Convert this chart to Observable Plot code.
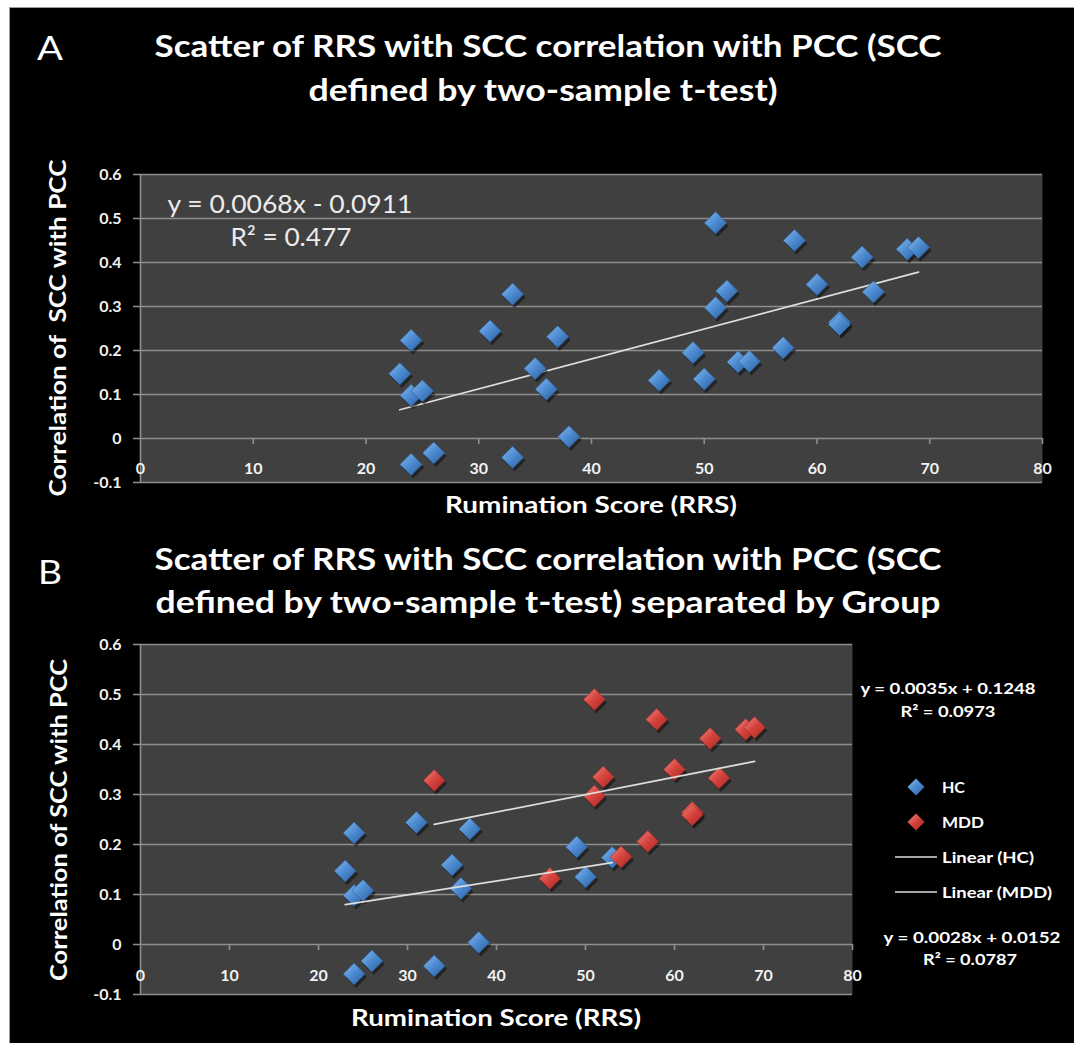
<!DOCTYPE html>
<html><head><meta charset="utf-8">
<script src="https://cdn.jsdelivr.net/npm/d3@7"></script>
<script src="https://cdn.jsdelivr.net/npm/@observablehq/plot@0.6"></script>
<style>
html,body{margin:0;padding:0;background:#fff;width:1074px;height:1051px;overflow:hidden;font-family:Lato,"Open Sans",sans-serif;}
#bg{position:absolute;left:9px;top:7px;width:1065px;height:1036px;background:#000;border-top:1px solid #9a9a9a;border-left:1px solid #9a9a9a;box-sizing:border-box}
.panel{position:absolute;left:0}
.t{position:absolute;white-space:pre;color:#fff;line-height:1;transform-origin:center center}
</style></head><body>
<div id="bg"></div>
<svg width="0" height="0" style="position:absolute">
  <defs>
    <linearGradient id="gBlue" x1="0" y1="0" x2="1" y2="1">
      <stop offset="0%" stop-color="#86bbf0"/>
      <stop offset="48%" stop-color="#4d8bd0"/>
      <stop offset="100%" stop-color="#2a5e9e"/>
    </linearGradient>
    <linearGradient id="gRed" x1="0" y1="0" x2="1" y2="1">
      <stop offset="0%" stop-color="#f08a84"/>
      <stop offset="48%" stop-color="#d6433d"/>
      <stop offset="100%" stop-color="#a42824"/>
    </linearGradient>
  </defs>
</svg>
<div id="A" class="panel" style="top:150px"></div>
<div id="B" class="panel" style="top:620px"></div>
<script>
// ---- data ----
const rrs   = [23, 24, 24, 25, 24, 26, 31, 33, 35, 36, 37, 38, 49, 50, 53,
               33, 46, 51, 51, 52, 54, 57, 58, 60, 62, 62, 64, 65, 68, 69];
const scc   = [0.147, 0.223, 0.098, 0.108, -0.059, -0.033, 0.244, -0.043, 0.159, 0.112, 0.231, 0.004, 0.195, 0.135, 0.174,
               0.328, 0.132, 0.490, 0.297, 0.335, 0.175, 0.206, 0.450, 0.350, 0.264, 0.259, 0.412, 0.333, 0.430, 0.434];
const group = ["HC","HC","HC","HC","HC","HC","HC","HC","HC","HC","HC","HC","HC","HC","HC",
               "MDD","MDD","MDD","MDD","MDD","MDD","MDD","MDD","MDD","MDD","MDD","MDD","MDD","MDD","MDD"];
const xTicks = [0, 10, 20, 30, 40, 50, 60, 70, 80];
const yTicks = [-0.1, 0, 0.1, 0.2, 0.3, 0.4, 0.5, 0.6];
const yTickLabels = ["-0.1", "0", "0.1", "0.2", "0.3", "0.4", "0.5", "0.6"];
const fitAll = {slope: 0.0068, intercept: -0.0911, r2: "0.477"};
const fitHC  = {slope: 0.0028, intercept: 0.0152, r2: "0.0787"};
const fitMDD = {slope: 0.0035, intercept: 0.1248, r2: "0.0973"};

const points = rrs.map((x, i) => ({rrs: x, scc: scc[i], group: group[i]}));
function trend(pts, fit) {
  const [a, b] = d3.extent(pts, d => d.rrs);
  return [a, b].map(x => ({x, y: fit.slope * x + fit.intercept}));
}
function eqText(fit) {
  const s = fit.intercept < 0 ? " - " : " + ";
  return "y = " + fit.slope.toFixed(4) + "x" + s + Math.abs(fit.intercept).toFixed(4);
}

const GRID = "#8e8e8e", TXT = "#f2f2f2", TREND = "#dedede";
function axisMarks(tickDy) {
  return [
    Plot.frame({fill: "#404040", stroke: "none"}),
    Plot.ruleY(yTicks, {y: d => d, stroke: GRID, strokeWidth: 1.6, insetLeft: -7}),
    Plot.ruleX([0], {x: d => d, stroke: GRID, strokeWidth: 1.6}),
    Plot.ruleX(xTicks.slice(1), {x: d => d, y1: () => 0, y2: () => 0, insetBottom: -6, stroke: GRID, strokeWidth: 1.6}),
    Plot.text(yTicks, {x: () => 0, y: d => d, text: (d, i) => yTickLabels[i], textAnchor: "end", dx: -19, fill: TXT}),
    Plot.text(xTicks, {x: d => d, y: () => 0, text: d => String(d), dy: tickDy, fill: TXT})
  ];
}
const baseStyle = {background: "transparent", fontFamily: "Lato, 'Open Sans', sans-serif", fontSize: "16px", fontWeight: "bold", color: TXT};

// ---- Panel A ----
const plotA = Plot.plot({
  width: 1074, height: 380,
  marginLeft: 140, marginRight: 32, marginTop: 24, marginBottom: 48,
  style: baseStyle,
  x: {domain: [0, 80], axis: null},
  y: {domain: [-0.1, 0.6], axis: null},
  marks: [
    ...axisMarks(30),
    Plot.line(trend(points, fitAll), {x: "x", y: "y", stroke: TREND, strokeWidth: 1.7}),
    Plot.dot(points, {x: "rrs", y: "scc", symbol: "diamond2", r: 10, fill: "#000", fillOpacity: 0.45, dx: 2, dy: 3}),
    Plot.dot(points, {x: "rrs", y: "scc", symbol: "diamond2", r: 10, fill: "url(#gBlue)", stroke: "#2c5f9c", strokeWidth: 0.6})
  ]
});
document.getElementById("A").appendChild(plotA);

// ---- Panel B ----
const hc = points.filter(d => d.group === "HC");
const mdd = points.filter(d => d.group === "MDD");
const plotB = Plot.plot({
  width: 1074, height: 420,
  marginLeft: 140, marginRight: 222, marginTop: 24, marginBottom: 46,
  style: baseStyle,
  x: {domain: [0, 80], axis: null},
  y: {domain: [-0.1, 0.6], axis: null},
  marks: [
    ...axisMarks(31),
    Plot.dot(points, {x: "rrs", y: "scc", symbol: "diamond2", r: 9.8, fill: "#000", fillOpacity: 0.45, dx: 2, dy: 3}),
    Plot.dot(hc, {x: "rrs", y: "scc", symbol: "diamond2", r: 9.8, fill: "url(#gBlue)", stroke: "#2c5f9c", strokeWidth: 0.6}),
    Plot.dot(mdd, {x: "rrs", y: "scc", symbol: "diamond2", r: 9.8, fill: "url(#gRed)", stroke: "#a02a26", strokeWidth: 0.6}),
    Plot.line(trend(hc, fitHC), {x: "x", y: "y", stroke: TREND, strokeWidth: 1.7}),
    Plot.line(trend(mdd, fitMDD), {x: "x", y: "y", stroke: TREND, strokeWidth: 1.7})
  ]
});
document.getElementById("B").appendChild(plotB);

// ---- text (titles, axis titles, equations, legend) ----
function place(txt, x, y, w, opts = {}) {
  const el = document.createElement("div");
  el.className = "t";
  el.textContent = txt;
  el.style.fontSize = (opts.size || 16) + "px";
  el.style.fontWeight = opts.weight || "bold";
  if (opts.color) el.style.color = opts.color;
  el.style.left = x + "px";
  el.style.top = y + "px";
  document.body.appendChild(el);
  const w0 = el.getBoundingClientRect().width;
  const k = w ? w / w0 : 1;
  if (opts.anchor === "start") {
    el.style.transformOrigin = "left center";
    el.style.transform = `translate(0,-50%) scaleX(${k})`;
  } else if (opts.rotate) {
    el.style.transform = `translate(-50%,-50%) rotate(-90deg) scaleX(${k})`;
  } else {
    el.style.transform = `translate(-50%,-50%) scaleX(${k})`;
  }
  return el;
}
// titles
place("A", 50, 47, 26, {size: 33, weight: "normal"});
place("Scatter of RRS with SCC correlation with PCC (SCC", 548, 45, 787, {size: 31});
place("defined by two-sample t-test)", 543, 89, 469, {size: 31});
place("B", 50, 571, 24, {size: 33, weight: "normal"});
place("Scatter of RRS with SCC correlation with PCC (SCC", 548, 558, 787, {size: 31});
place("defined by two-sample t-test) separated by Group", 548, 601, 785, {size: 31});
// axis titles
place("Correlation of  SCC with PCC", 57, 328, 337, {size: 23, rotate: true});
place("Rumination Score (RRS)", 591, 505, 292, {size: 22});
place("Correlation of SCC with PCC", 58, 820, 322, {size: 23, rotate: true});
place("Rumination Score (RRS)", 496, 1018, 290, {size: 22});
// panel A equation
place(eqText(fitAll), 290, 203, 245, {size: 25, weight: "normal", color: "#ececec"});
place("R\u00b2 = " + fitAll.r2, 291, 236, 121, {size: 25, weight: "normal", color: "#ececec"});
// panel B equations
place(eqText(fitMDD), 948, 688, 175, {size: 15});
place("R\u00b2 = " + fitMDD.r2, 948, 711, 95, {size: 15});
place(eqText(fitHC), 972, 937, 177, {size: 15});
place("R\u00b2 = " + fitHC.r2, 970, 959, 94, {size: 15});
// legend
const legendItems = [
  {label: "HC", kind: "dot", fill: "url(#gBlue)", y: 787, w: 23},
  {label: "MDD", kind: "dot", fill: "url(#gRed)", y: 822, w: 42},
  {label: "Linear (HC)", kind: "line", y: 857, w: 92},
  {label: "Linear (MDD)", kind: "line", y: 892, w: 110}
];
const NS = "http://www.w3.org/2000/svg";
legendItems.forEach(it => {
  const s = document.createElementNS(NS, "svg");
  s.setAttribute("width", 50); s.setAttribute("height", 24);
  s.style.position = "absolute"; s.style.left = "892px"; s.style.top = (it.y - 12) + "px";
  if (it.kind === "dot") {
    const sh = document.createElementNS(NS, "path");
    sh.setAttribute("d", "M24,5 L32,13 L24,21 L16,13 Z"); sh.setAttribute("fill", "rgba(0,0,0,0.5)");
    const p = document.createElementNS(NS, "path");
    p.setAttribute("d", "M24,3.5 L32.5,12 L24,20.5 L15.5,12 Z"); p.setAttribute("fill", it.fill);
    s.appendChild(sh); s.appendChild(p);
  } else {
    const l = document.createElementNS(NS, "line");
    l.setAttribute("x1", 3); l.setAttribute("x2", 45); l.setAttribute("y1", 12); l.setAttribute("y2", 12);
    l.setAttribute("stroke", TREND); l.setAttribute("stroke-width", 1.6);
    s.appendChild(l);
  }
  document.body.appendChild(s);
  place(it.label, 942, it.y, it.w, {size: 16, anchor: "start"});
});
</script>
</body></html>
